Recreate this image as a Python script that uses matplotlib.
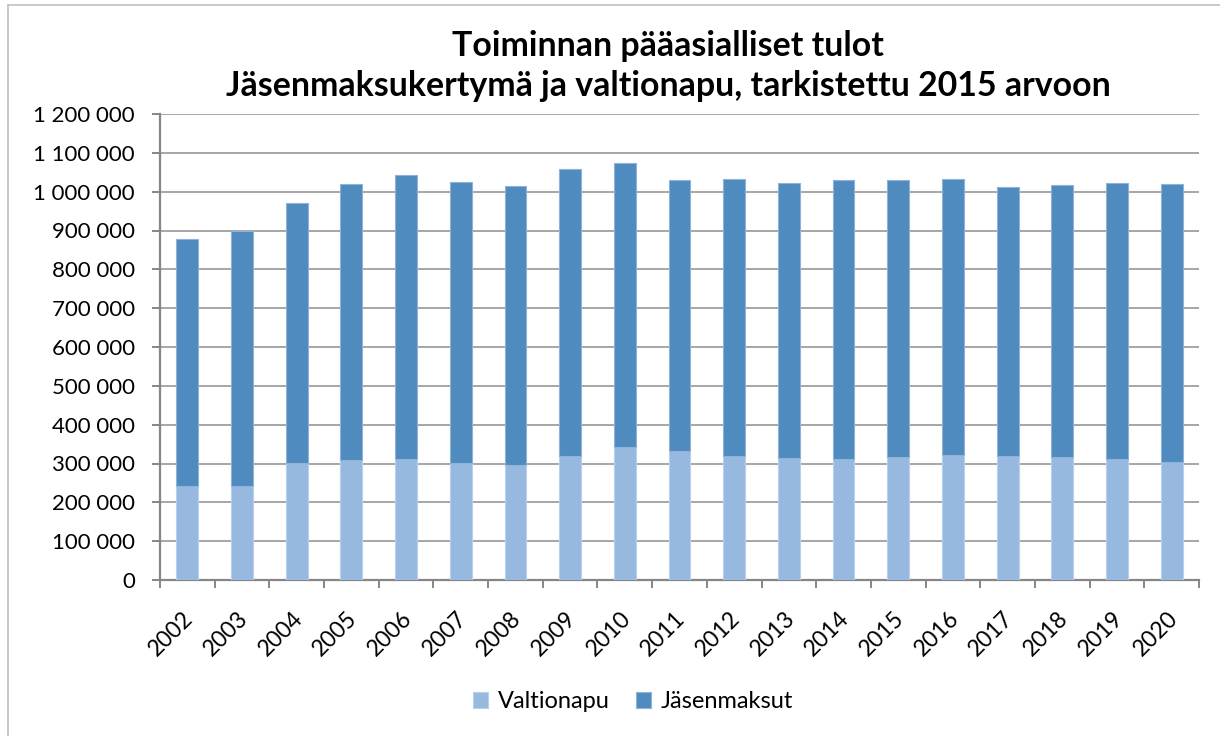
import numpy as np
import matplotlib.pyplot as plt
import matplotlib.transforms as mtransforms
from matplotlib.lines import Line2D
from matplotlib.ticker import FuncFormatter

## Data

years = [str(y) for y in range(2002, 2021)]
totals = [877000, 899000, 970000, 1021000, 1043500, 1025000, 1013500, 1059000, 1073500,
          1031000, 1033000, 1023000, 1031000, 1031000, 1033000, 1013000, 1018000, 1023000, 1020500]
valtionapu = [243000, 243000, 301000, 309500, 310500, 302000, 295000, 319500, 342000,
              332500, 319500, 314500, 310500, 318000, 323000, 319500, 315500, 310500, 305000]
jasenmaksut = [t - v for t, v in zip(totals, valtionapu)]

title = "Toiminnan pääasialliset tulot\nJäsenmaksukertymä ja valtionapu, tarkistettu 2015 arvoon"

LIGHT = "#97B9E0"
DARK = "#4F8BBE"
GRID = "#A6A6A6"
AXIS = "#868686"

plt.rcParams["font.family"] = ["Lato", "DejaVu Sans"]

## Plotting

fig = plt.figure(figsize=(12.2, 7.36), dpi=100)
ax = fig.add_axes([160 / 1220, 1 - 580 / 736, (1199 - 160) / 1220, (580 - 114) / 736])

x = np.arange(len(years))
ax.bar(x, valtionapu, width=0.4, color=LIGHT, edgecolor="#B9D0EC", linewidth=0.8,
       label="Valtionapu", zorder=3)
ax.bar(x, jasenmaksut, bottom=valtionapu, width=0.4, color=DARK, edgecolor="#8FB2D8",
       linewidth=0.8, label="Jäsenmaksut", zorder=3)

ax.set_xlim(-0.5, len(years) - 0.5)
ax.set_ylim(0, 1200000)
ax.set_yticks(np.arange(0, 1200001, 100000))
ax.yaxis.set_major_formatter(FuncFormatter(lambda v, p: f"{v:,.0f}".replace(",", " ")))
ax.grid(axis="y", color=GRID, linewidth=1.4, zorder=0)
ax.set_axisbelow(True)

# category ticks sit between the bars
ax.set_xticks(x)
ax.set_xticklabels(years, rotation=45, ha="right", rotation_mode="anchor", fontsize=16.5)
ax.tick_params(axis="x", length=0, pad=20)
shift = mtransforms.ScaledTranslation(-5 / 100, 0, fig.dpi_scale_trans)
for lbl in ax.get_xticklabels():
    lbl.set_transform(lbl.get_transform() + shift)
ax.set_xticks(np.arange(-0.5, len(years)), minor=True)
ax.tick_params(axis="x", which="minor", length=6, width=1.4, color=AXIS)
ax.tick_params(axis="y", length=6, width=1.4, color=AXIS, labelsize=16, pad=12)

for side in ["top", "right"]:
    ax.spines[side].set_visible(False)
for side in ["left", "bottom"]:
    ax.spines[side].set_color(AXIS)
    ax.spines[side].set_linewidth(1.6)

fig.text(668 / 1220, 1 - 66 / 736, title, ha="center", va="center", fontsize=24.4,
         fontweight="bold", linespacing=1.3)

fig.legend(loc="center", bbox_to_anchor=(633 / 1220, 1 - 702 / 736), ncol=2, frameon=False,
           fontsize=17, handlelength=0.65, handleheight=0.65, handletextpad=0.4,
           columnspacing=1.1)

# outer chart frame (only left/top edges are inside the picture)
fig.add_artist(Line2D([8 / 1220, 8 / 1220], [0, 1 - 5 / 736], transform=fig.transFigure,
                      color="#C0C0C0", linewidth=1.2))
fig.add_artist(Line2D([8 / 1220, 1], [1 - 5 / 736, 1 - 5 / 736], transform=fig.transFigure,
                      color="#C0C0C0", linewidth=1.2))

fig.savefig("out.png", dpi=100, facecolor="white")
